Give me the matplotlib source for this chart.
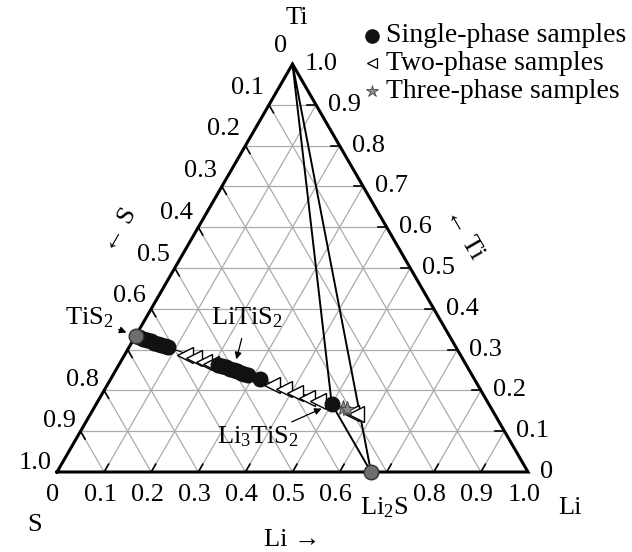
import numpy as np
import matplotlib
matplotlib.use("Agg")
import matplotlib.pyplot as plt

plt.rcParams['font.family'] = ['Liberation Serif', 'DejaVu Serif']
plt.rcParams['mathtext.fontset'] = 'custom'
plt.rcParams['mathtext.rm'] = 'Liberation Serif'
plt.rcParams['mathtext.it'] = 'Liberation Serif'

# x in Li_x TiS2 for each sample
single_x = [0.03, 0.06, 0.09, 0.12, 0.15, 0.18, 0.21, 0.24, 0.27,
            0.80, 0.85, 0.90, 0.95, 1.00, 1.05, 1.10, 1.15, 1.20, 1.40, 3.0]
two_x = [0.43, 0.53, 0.63, 0.72, 1.60, 1.82, 2.06, 2.34, 2.62, 3.65, 3.85]
three_x = [3.35, 3.52]

# end members (Li, Ti fractions)
tis2 = (0.0, 1 / 3)
li2s = (2 / 3, 0.0)
li3tis2 = (0.5, 1 / 6)
ti = (0.0, 1.0)

ticks = [0.1, 0.2, 0.3, 0.4, 0.5, 0.6, 0.7, 0.8, 0.9]
tick_labels = ['0', '0.1', '0.2', '0.3', '0.4', '0.5', '0.6', '0.7', '0.8', '0.9', '1.0']
leg_labels = ['Single-phase samples', 'Two-phase samples', 'Three-phase samples']

H = np.sqrt(3) / 2
PX = 471.0  # pixels per unit
X0, Y0 = 57, 472  # pixel position of the S corner


def xy(li, t):
    return li + t / 2, t * H


def lixtis2(x):
    x = np.asarray(x, dtype=float)
    return xy(x / (3 + x), 1 / (3 + x))


def px(x, y):
    # figure pixel -> data coords
    return (x - X0) / PX, (Y0 - y) / PX


fig = plt.figure(figsize=(6.32, 5.52), dpi=100)
ax = fig.add_axes([0, 0, 1, 1])
ax.set_xlim(-X0 / PX, (632 - X0) / PX)
ax.set_ylim((Y0 - 552) / PX, Y0 / PX)
ax.axis('off')

FS = 19
grid_c = '#ababab'

# grid
for v in ticks:
    ax.plot(*zip(xy(0, v), xy(1 - v, v)), color=grid_c, lw=0.9, zorder=1)   # const Ti
    ax.plot(*zip(xy(v, 0), xy(v, 1 - v)), color=grid_c, lw=0.9, zorder=1)   # const Li
    ax.plot(*zip(xy(0, 1 - v), xy(1 - v, 0)), color=grid_c, lw=0.9, zorder=1)  # const S

# ticks
tl = 9 / PX
for v in ticks:
    x0, y0 = xy(0, 1 - v)
    ax.plot([x0, x0 + tl * 0.5], [y0, y0 - tl * H], color='black', lw=1.2, zorder=2)
    x0, y0 = xy(1 - v, v)
    ax.plot([x0, x0 - tl], [y0, y0], color='black', lw=1.2, zorder=2)
    x0, y0 = xy(v, 0)
    ax.plot([x0, x0 + tl * 0.5], [y0, y0 + tl * H], color='black', lw=1.2, zorder=2)

# outline
corners = [xy(0, 0), xy(1, 0), xy(0, 1), xy(0, 0)]
ax.plot(*zip(*corners), color='black', lw=2.2, zorder=3, solid_joinstyle='miter')

# tie lines
for a, b in [(ti, li3tis2), (ti, li2s), (li3tis2, li2s)]:
    ax.plot(*zip(xy(*a), xy(*b)), color='black', lw=1.4, zorder=3)

# thin Li_x TiS2 line
lx, ly = lixtis2([0.25, 3.9])
ax.plot(lx, ly, color='black', lw=0.8, zorder=3)

# samples
sx, sy = lixtis2(two_x)
ax.plot(sx, sy - 2 / PX, ls='none', marker='<', ms=12, mfc='white', mec='black', mew=1.0, zorder=4)
sx, sy = lixtis2(three_x)
ax.plot(sx, sy, ls='none', marker='*', ms=11, mfc='#8a8a8a', mec='#444444', mew=0.7, zorder=5)
sx, sy = lixtis2(single_x)
ax.plot(sx, sy, ls='none', marker='o', ms=10.5, mfc='#111111', mec='#111111', zorder=6)
for p in [tis2, li2s]:
    ax.plot(*xy(*p), marker='o', ms=10.5, mfc='#6e6e6e', mec='#333333', mew=1.0, zorder=6)

# tick labels
for i, lab in enumerate(tick_labels):
    v = i / 10
    if i != 7:
        x0, y0 = xy(v, 0)
        ax.text(x0 - 4 / PX, y0 - 23 / PX, lab, ha='center', va='center', fontsize=FS)
    x0, y0 = xy(1 - v, v)
    ax.text(x0 + 12 / PX, y0, lab, ha='left', va='center', fontsize=FS)
    if i != 7:
        x0, y0 = xy(0, 1 - v)
        ax.text(x0 - 5 / PX, y0 + (18 - 9 * v) / PX, lab, ha='right', va='center', fontsize=FS)

# corner and axis names
ax.text(*px(297, 18), 'Ti', ha='center', va='center', fontsize=FS)
ax.text(*px(35, 525), 'S', ha='center', va='center', fontsize=FS)
ax.text(*px(570, 508), 'Li', ha='center', va='center', fontsize=FS)
ax.text(*px(292, 540), 'Li \u2192', ha='center', va='center', fontsize=FS)
ax.text(*px(120, 230), '\u2190 S', ha='center', va='center', fontsize=FS,
        rotation=60, rotation_mode='anchor')
ax.text(*px(464, 234), '\u2190 Ti', ha='center', va='center', fontsize=FS,
        rotation=-60, rotation_mode='anchor')

# compound labels
arrow = dict(arrowstyle='-|>', color='black', lw=0.9, mutation_scale=10)
ax.annotate('TiS$_2$', xy=xy(*tis2), xytext=px(89, 318), ha='center', va='center',
            fontsize=FS, arrowprops=dict(arrow, shrinkA=2, shrinkB=7))
ax.annotate('LiTiS$_2$', xy=lixtis2(1.0), xytext=px(247, 318), ha='center', va='center',
            fontsize=FS, arrowprops=dict(arrow, shrinkA=4, shrinkB=8))
ax.annotate('Li$_3$TiS$_2$', xy=xy(*li3tis2), xytext=px(258, 437), ha='center', va='center',
            fontsize=FS, arrowprops=dict(arrow, shrinkA=0, shrinkB=8))
ax.text(*px(384, 508), 'Li$_2$S', ha='center', va='center', fontsize=FS)

# legend
leg_y = [36, 63, 91]
leg_style = [dict(marker='o', ms=9.5, mfc='#111111', mec='#111111'),
             dict(marker='<', ms=7, mfc='white', mec='black', mew=0.9),
             dict(marker='*', ms=9, mfc='#8a8a8a', mec='#444444', mew=0.6)]
for lab, yy, st in zip(leg_labels, leg_y, leg_style):
    ax.plot(*px(372, yy), ls='none', clip_on=False, **st)
    ax.text(*px(386, yy), lab, ha='left', va='center', fontsize=20)

fig.savefig('out.png', dpi=100)
